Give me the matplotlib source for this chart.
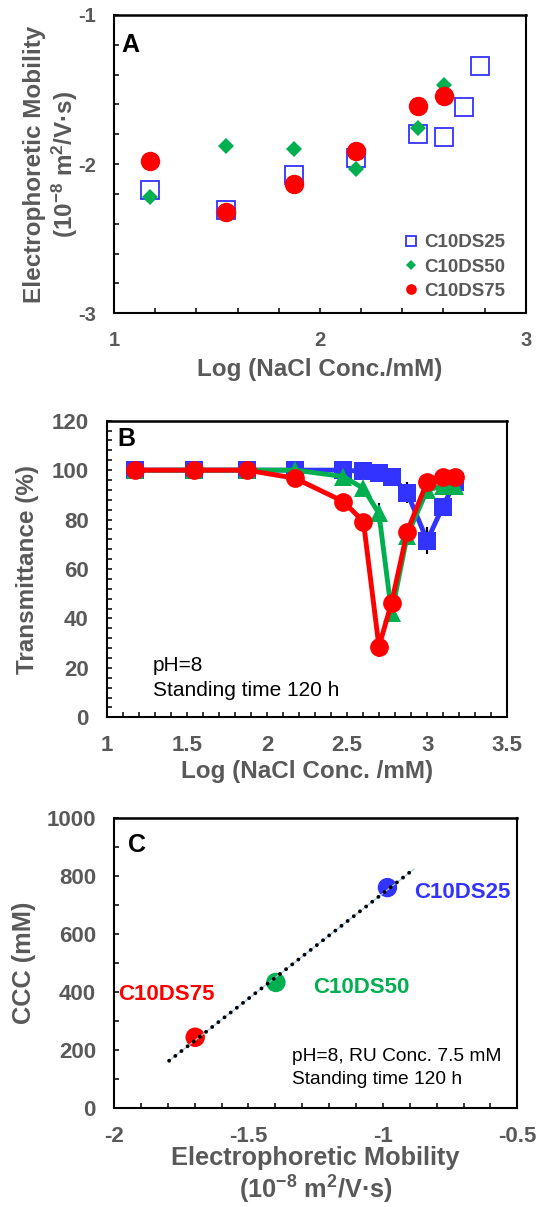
import numpy as np
import matplotlib
matplotlib.use("Agg")
import matplotlib.pyplot as plt
from matplotlib.ticker import MultipleLocator, FormatStrFormatter

plt.rcParams['font.family'] = ['Liberation Sans', 'DejaVu Sans']
plt.rcParams['font.weight'] = 'bold'
plt.rcParams['axes.labelweight'] = 'bold'
plt.rcParams['axes.unicode_minus'] = False
plt.rcParams['mathtext.default'] = 'regular'

GRAY = '#595959'
BLUE = '#3333ff'
GREEN = '#00b050'
RED = '#ff0000'

# --- panel A: mobility vs NaCl ---
conc_a = [15, 35, 75, 150, 300, 400, 500, 600]          # mM
mob_25 = [-2.17, -2.31, -2.07, -1.96, -1.80, -1.82, -1.62, -1.34]
mob_50 = [-2.22, -1.88, -1.90, -2.03, -1.76, -1.47]
mob_75 = [-1.98, -2.32, -2.13, -1.91, -1.61, -1.54]

# --- panel B: transmittance vs NaCl ---
conc_b = [15, 35, 75, 150, 300, 400, 500, 600, 750, 1000, 1250, 1500]
trans_25 = [100, 100, 100, 100, 100, 99.5, 98.7, 97.4, 90.9, 71.5, 85.2, 95.3]
err_25 = [0, 0, 0, 0, 0, 0, 0, 0, 4.3, 5.5, 0, 0]
trans_50 = [100, 100, 100, 100, 97.4, 92.6, 82.5, 42.0, 73.5, 92.0, 93.5, 93.5]
err_50 = [0, 0, 0, 0, 0, 0, 4.2, 3.5, 0, 0, 0, 0]
trans_75 = [100, 100, 100, 96.7, 87.3, 79.2, 28.6, 46.4, 75.1, 95.3, 97.1, 97.1]
err_75 = [0, 0, 0, 0, 0, 0, 4.4, 3.0, 0, 0, 0, 0]

# --- panel C: CCC vs mobility ---
ccc_names = ['C10DS25', 'C10DS50', 'C10DS75']
ccc_mob = [-0.983, -1.398, -1.698]
ccc_val = [761, 434, 245]
ccc_colors = [BLUE, GREEN, RED]
fit_range = [-1.795, -0.884]


def style(ax, fs):
    for s in ax.spines.values():
        s.set_linewidth(1.5)
    ax.spines['top'].set_linewidth(1.8)
    ax.tick_params(which='both', direction='in', length=3.6, width=1.1,
                   pad=13, labelsize=fs, labelcolor=GRAY, top=False, right=False)
    ax.xaxis.set_major_formatter(FormatStrFormatter('%g'))
    ax.yaxis.set_major_formatter(FormatStrFormatter('%g'))


fig = plt.figure(figsize=(5.38, 12.07), dpi=100)
W, H = 538, 1207

# ---------------- A ----------------
axA = fig.add_axes([114 / W, 1 - 313.3 / H, 411.7 / W, 298.3 / H])
xa = np.log10(conc_a)
axA.plot(xa, mob_25, 's', ms=13.5, mfc='none', mec=BLUE, mew=1.3, label='C10DS25')
axA.plot(xa[:len(mob_50)], mob_50, 'D', ms=8.5, color=GREEN, mew=0, label='C10DS50')
axA.plot(xa[:len(mob_75)], mob_75, 'o', ms=14, color=RED, mew=0, label='C10DS75')
axA.set_xlim(1, 3)
axA.set_ylim(-3, -1)
axA.xaxis.set_major_locator(MultipleLocator(1))
axA.xaxis.set_minor_locator(MultipleLocator(0.2))
axA.yaxis.set_major_locator(MultipleLocator(1))
axA.yaxis.set_minor_locator(MultipleLocator(0.2))
style(axA, 14.5)
axA.set_xlabel('Log (NaCl Conc./mM)', fontsize=17.5, color=GRAY, va='center')
axA.xaxis.set_label_coords(0.5, -0.19)
axA.set_ylabel('Electrophoretic Mobility\n(10$^{-8}$ m$^2$/V·s)', fontsize=17.5,
               color=GRAY, va='center', ha='center', linespacing=1.2)
axA.yaxis.set_label_coords(-0.152, 0.5)
axA.text(0.019, 0.90, 'A', transform=axA.transAxes, fontsize=18, ha='left', va='center')
leg = axA.legend(loc='lower right', bbox_to_anchor=(0.95, 0.045), frameon=False,
                 borderaxespad=0, borderpad=0, handlelength=0.7, handletextpad=0.35,
                 labelspacing=0.38, markerscale=0.55, fontsize=13.5, labelcolor=GRAY)

# ---------------- B ----------------
axB = fig.add_axes([106.7 / W, 1 - 717.3 / H, 400.6 / W, 296.6 / H])
xb = np.log10(conc_b)
for t, e in [(trans_25, err_25), (trans_50, err_50), (trans_75, err_75)]:
    axB.errorbar(xb, t, yerr=e, fmt='none', ecolor='black', elinewidth=1.6, capsize=0, zorder=1)
for t, c, m, ms in [(trans_25, BLUE, 's', 12.8),
                    (trans_50, GREEN, '^', 13.5),
                    (trans_75, RED, 'o', 13.5)]:
    axB.plot(xb, t, '-', marker=m, ms=ms, color=c, lw=3.5, mew=0, zorder=2)
axB.set_xlim(1, 3.5)
axB.set_ylim(0, 120)
axB.xaxis.set_major_locator(MultipleLocator(0.5))
axB.xaxis.set_minor_locator(MultipleLocator(0.1))
axB.yaxis.set_major_locator(MultipleLocator(20))
axB.yaxis.set_minor_locator(MultipleLocator(4))
style(axB, 16)
axB.set_xlabel('Log (NaCl Conc. /mM)', fontsize=17.5, color=GRAY, va='center')
axB.xaxis.set_label_coords(0.5, -0.184)
axB.set_ylabel('Transmittance (%)', fontsize=17.5, color=GRAY, va='center', ha='center')
axB.yaxis.set_label_coords(-0.198, 0.5)
axB.text(0.0275, 0.937, 'B', transform=axB.transAxes, fontsize=18, ha='left', va='center')
axB.text(0.1156, 0.173, 'pH=8', transform=axB.transAxes, fontsize=15,
         fontweight='normal', ha='left', va='center')
axB.text(0.1156, 0.092, 'Standing time 120 h', transform=axB.transAxes, fontsize=15,
         fontweight='normal', ha='left', va='center')

# ---------------- C ----------------
axC = fig.add_axes([114 / W, 1 - 1108.3 / H, 403.3 / W, 290 / H])
axC.scatter(ccc_mob, ccc_val, s=14 ** 2, c=ccc_colors, linewidths=0, zorder=2)
coef = np.polyfit(ccc_mob, ccc_val, 1)
xf = np.array(fit_range)
yf = np.polyval(coef, xf)
axC.plot(xf, yf, '-', color='#9dc3e6', lw=0.8, zorder=3)
axC.plot(xf, yf, color='black', lw=2.8, dashes=[0.01, 2.0], dash_capstyle='round', zorder=4)
axC.set_xlim(-2, -0.5)
axC.set_ylim(0, 1000)
axC.xaxis.set_major_locator(MultipleLocator(0.5))
axC.xaxis.set_minor_locator(MultipleLocator(0.1))
axC.yaxis.set_major_locator(MultipleLocator(200))
axC.yaxis.set_minor_locator(MultipleLocator(100))
style(axC, 16)
axC.set_xlabel('Electrophoretic Mobility\n(10$^{-8}$ m$^2$/V·s)', fontsize=18.3,
               color=GRAY, va='center', linespacing=1.15)
axC.xaxis.set_label_coords(0.5, -0.233)
axC.set_ylabel('CCC (mM)', fontsize=18.3, color=GRAY, va='center', ha='center')
axC.yaxis.set_label_coords(-0.223, 0.5)
axC.text(0.0355, 0.908, 'C', transform=axC.transAxes, fontsize=18, ha='left', va='center')
for name, c, pos in zip(ccc_names, ccc_colors, [(0.744, 0.743), (0.494, 0.416), (0.011, 0.391)]):
    axC.text(pos[0], pos[1], name, color=c, transform=axC.transAxes, fontsize=16,
             ha='left', va='center')
axC.text(0.4406, 0.178, 'pH=8, RU Conc. 7.5 mM', transform=axC.transAxes, fontsize=13.8,
         fontweight='normal', ha='left', va='center')
axC.text(0.4406, 0.0976, 'Standing time 120 h', transform=axC.transAxes, fontsize=13.8,
         fontweight='normal', ha='left', va='center')

fig.savefig('out.png', dpi=100)
